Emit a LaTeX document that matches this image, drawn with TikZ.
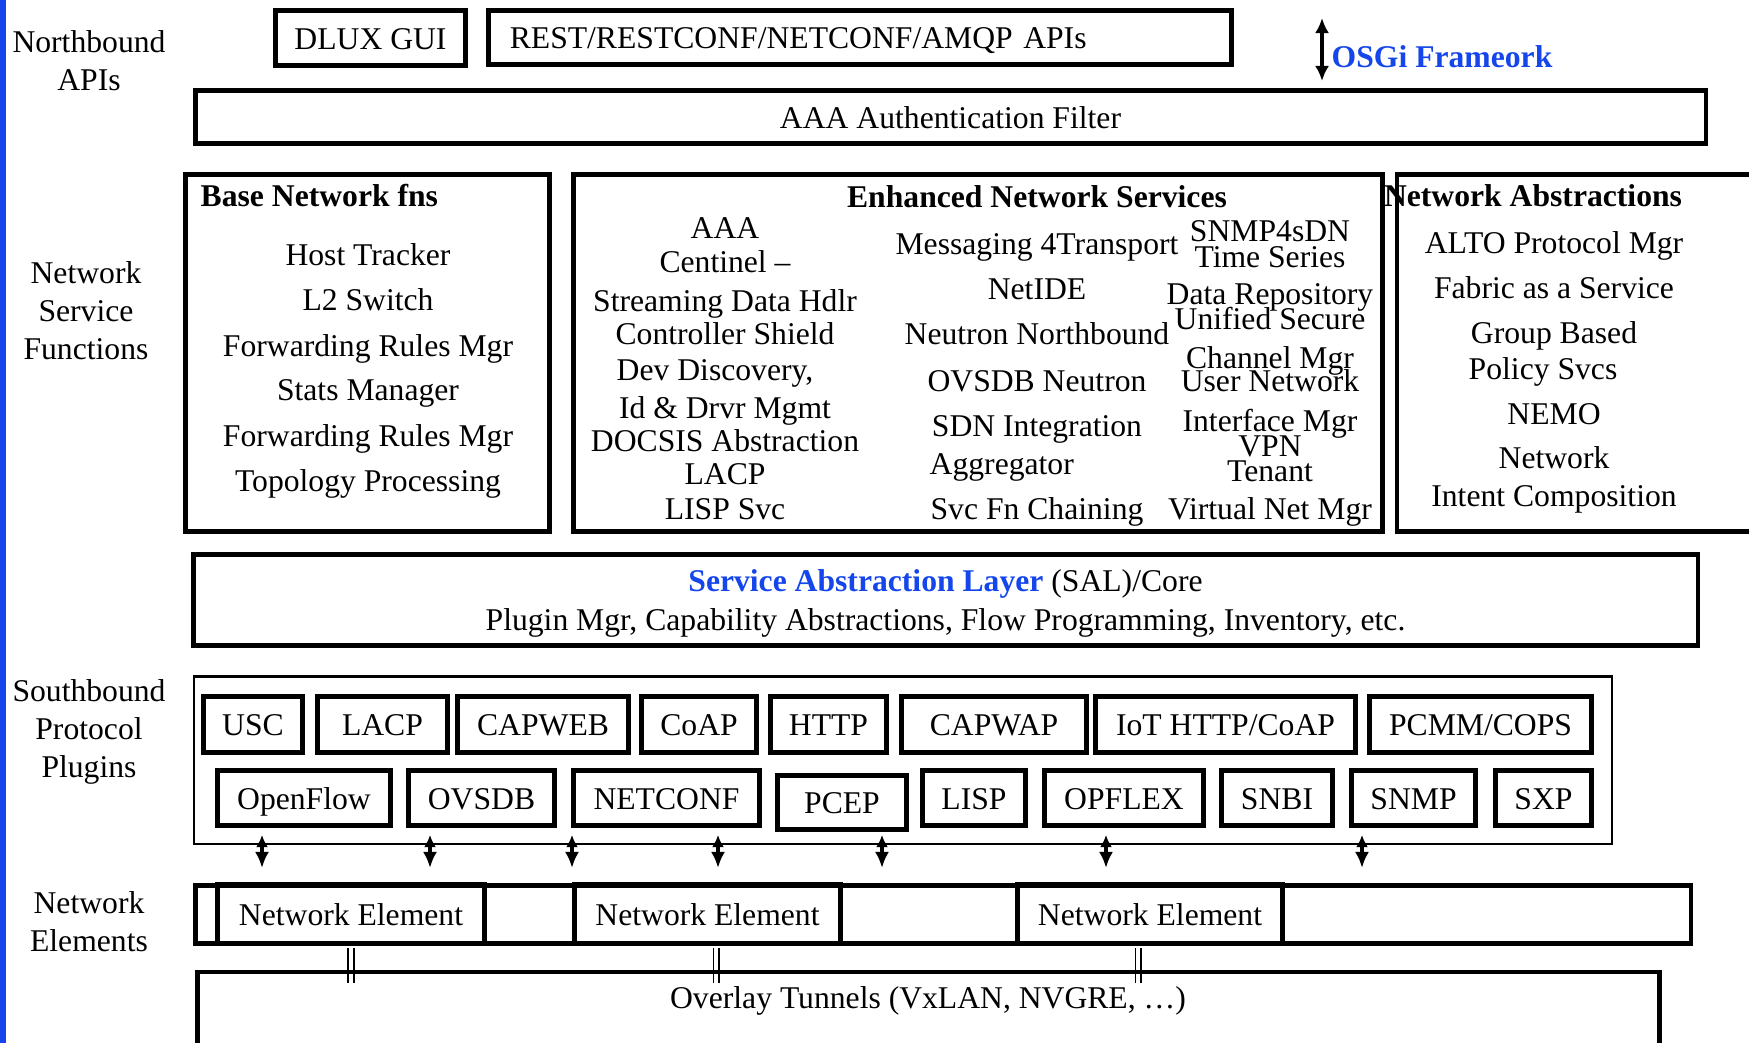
\documentclass[tikz,border=0pt]{standalone}
\usepackage{fontspec}
\setmainfont{Liberation Serif}
\usetikzlibrary{arrows.meta,positioning}
\definecolor{osgiblue}{RGB}{20,70,235}
\tikzset{
  blk/.style={draw, line width=1.4pt, inner sep=0pt, text height=8.3pt, text depth=2pt},
  thinblk/.style={draw, line width=0.6pt, inner sep=0pt},
  plugbox/.style={blk},
  lbl/.style={inner sep=0pt, text height=8.3pt, text depth=2pt},
  side/.style={inner sep=0pt, align=center},
  osgiarrow/.style={{Latex[length=0.15cm,width=0.14cm]}-{Latex[length=0.15cm,width=0.14cm]}, line width=1.2pt},
  biarrow/.style={{Latex[length=0.12cm,width=0.12cm]}-{Latex[length=0.16cm,width=0.14cm]}, line width=1pt},
  tunnel/.style={double, double distance=0.035cm, line width=0.5pt}
}
\begin{document}
\begin{tikzpicture}[x=0.01cm, y=-0.01cm, font=\fontsize{9pt}{10.8pt}\selectfont]
\useasboundingbox (0,0) rectangle (1749,1043);
\clip (0,0) rectangle (1749,1043);
\fill[osgiblue] (0,0) rectangle (6,1043);
% etiquettes de gauche
\node (nbapi) [side] at (89,61) {Northbound\\APIs};
\node (nsf) [side] at (86,311) {Network\\Service\\Functions};
\node (sbpp) [side] at (89,732) {Southbound\\Protocol\\Plugins};
\node (nel) [side] at (89,922) {Network\\Elements};
% northbound
\node (dlux) [blk, minimum width=1.90cm, minimum height=0.55cm] at (370.5,38) {DLUX GUI};
\node (rest) [blk, minimum width=7.43cm, minimum height=0.54cm, text width=7.0cm, align=left] at (860,37.5) {REST/RESTCONF/NETCONF/AMQP APIs};
\coordinate (osgitop) at (1322,18);
\coordinate (osgibot) at (1322,81);
\draw[osgiarrow] (osgitop) -- (osgibot);
\node (osgi) [lbl, anchor=west, text=osgiblue] at (1331,56) {\textbf{OSGi Frameork}};
\node (aaa) [blk, minimum width=15.10cm, minimum height=0.53cm] at (950.5,117) {AAA Authentication Filter};
% fonctions reseau
\node (basettl) [lbl, anchor=west] at (200,195) {\textbf{Base Network fns}};
\node (ensttl) [lbl] at (1037,196) {\textbf{Enhanced Network Services}};
\node (nabsttl) [lbl] at (1533,195) {\textbf{Network Abstractions}};
\node (base) [blk, minimum width=3.64cm, minimum height=3.57cm] at (367.5,353) {};
\node (ens) [blk, minimum width=8.09cm, minimum height=3.57cm] at (978,353) {};
\node (nabs) [blk, minimum width=4.50cm, minimum height=3.57cm, anchor=west] at (1394.5,353) {};
\foreach \t/\y [count=\i] in {Host Tracker/254, L2 Switch/299, Forwarding Rules Mgr/345, Stats Manager/389, Forwarding Rules Mgr/435, Topology Processing/480}
  \node (bf\i) [lbl] at (368,\y) {\t};
\foreach \t/\y [count=\i] in {AAA/227, Centinel --/261, Streaming Data Hdlr/300, Controller Shield/333, Id \& Drvr Mgmt/407, DOCSIS Abstraction/440, LACP/473, LISP Svc/508}
  \node (ea\i) [lbl] at (725,\y) {\t};
\node (eadev) [lbl] at (715,369) {Dev Discovery,};
\foreach \t/\y [count=\i] in {Messaging 4Transport/243, NetIDE/288, Neutron Northbound/333, OVSDB Neutron/380, SDN Integration/425, Svc Fn Chaining/508}
  \node (eb\i) [lbl] at (1037,\y) {\t};
\node (ebagg) [lbl, anchor=west] at (929,463) {Aggregator};
\foreach \t/\y [count=\i] in {SNMP4sDN/230, Time Series/256, Data Repository/293, Unified Secure/318, Channel Mgr/357, User Network/380, Interface Mgr/420, VPN/445, Tenant/470, Virtual Net Mgr/508}
  \node (ec\i) [lbl] at (1270,\y) {\t};
\foreach \t/\y [count=\i] in {ALTO Protocol Mgr/242, Fabric as a Service/287, Group Based/332, NEMO/413, Network/457, Intent Composition/495}
  \node (na\i) [lbl] at (1554,\y) {\t};
\node (napol) [lbl, anchor=west] at (1468,368) {Policy Svcs};
% SAL
\node (sal) [blk, minimum width=15.04cm, minimum height=0.91cm] at (945.5,600) {};
\node (saltxt) [side] at (945.5,603) {\textcolor{osgiblue}{\textbf{Service Abstraction Layer}} (SAL)/Core\\[0.3pt]Plugin Mgr, Capability Abstractions, Flow Programming, Inventory, etc.};
% plugins
\node (plug) [thinblk, minimum width=14.17cm, minimum height=1.67cm] at (903,760) {};
\node (usc) [plugbox, minimum width=0.99cm, minimum height=0.56cm] at (253,724.5) {USC};
\node (lacp) [plugbox, minimum width=1.30cm, minimum height=0.56cm] at (382.5,724.5) {LACP};
\node (capweb) [plugbox, minimum width=1.71cm, minimum height=0.56cm] at (543,724.5) {CAPWEB};
\node (coap) [plugbox, minimum width=1.15cm, minimum height=0.56cm] at (699,724.5) {CoAP};
\node (http) [plugbox, minimum width=1.16cm, minimum height=0.56cm] at (828.5,724.5) {HTTP};
\node (capwap) [plugbox, minimum width=1.85cm, minimum height=0.56cm] at (994,724.5) {CAPWAP};
\node (iot) [plugbox, minimum width=2.60cm, minimum height=0.56cm] at (1225.5,724.5) {IoT HTTP/CoAP};
\node (pcmm) [plugbox, minimum width=2.22cm, minimum height=0.56cm] at (1480.5,724.5) {PCMM/COPS};
\node (openflow) [plugbox, minimum width=1.73cm, minimum height=0.55cm] at (304,798) {OpenFlow};
\node (ovsdb) [plugbox, minimum width=1.46cm, minimum height=0.55cm] at (481.5,798) {OVSDB};
\node (netconf) [plugbox, minimum width=1.86cm, minimum height=0.55cm] at (666.5,798) {NETCONF};
\node (pcep) [plugbox, minimum width=1.29cm, minimum height=0.54cm] at (842,802.5) {PCEP};
\node (lisp) [plugbox, minimum width=1.03cm, minimum height=0.55cm] at (974,798) {LISP};
\node (opflex) [plugbox, minimum width=1.59cm, minimum height=0.55cm] at (1124,798) {OPFLEX};
\node (snbi) [plugbox, minimum width=1.11cm, minimum height=0.55cm] at (1277,798) {SNBI};
\node (snmp) [plugbox, minimum width=1.24cm, minimum height=0.55cm] at (1413.5,798) {SNMP};
\node (sxp) [plugbox, minimum width=0.96cm, minimum height=0.55cm] at (1543.5,798) {SXP};
\foreach \x [count=\i] in {262,430,572,718,882,1106,1362} {
  \coordinate (au\i) at (\x,835);
  \coordinate (ad\i) at (\x,868);
  \draw[biarrow] (au\i) -- (ad\i);
}
% elements reseau
\node (nerow) [blk, minimum width=14.95cm, minimum height=0.58cm] at (943,914.5) {};
\node (ne1) [plugbox, minimum width=2.67cm, minimum height=0.59cm] at (351,914) {Network Element};
\node (ne2) [plugbox, minimum width=2.66cm, minimum height=0.59cm] at (707.5,914) {Network Element};
\node (ne3) [plugbox, minimum width=2.65cm, minimum height=0.59cm] at (1150,914) {Network Element};
\foreach \x [count=\i] in {351,716,1138} {
  \coordinate (tt\i) at (\x,948);
  \coordinate (tb\i) at (\x,983);
  \draw[tunnel] (tt\i) -- (tb\i);
}
\node (ovl) [blk, minimum width=14.61cm, minimum height=1.4cm, anchor=north] at (928.5,969.5) {};
\node (ovltxt) [lbl] at (928,997) {Overlay Tunnels (VxLAN, NVGRE, \dots)};
\end{tikzpicture}
\end{document}
